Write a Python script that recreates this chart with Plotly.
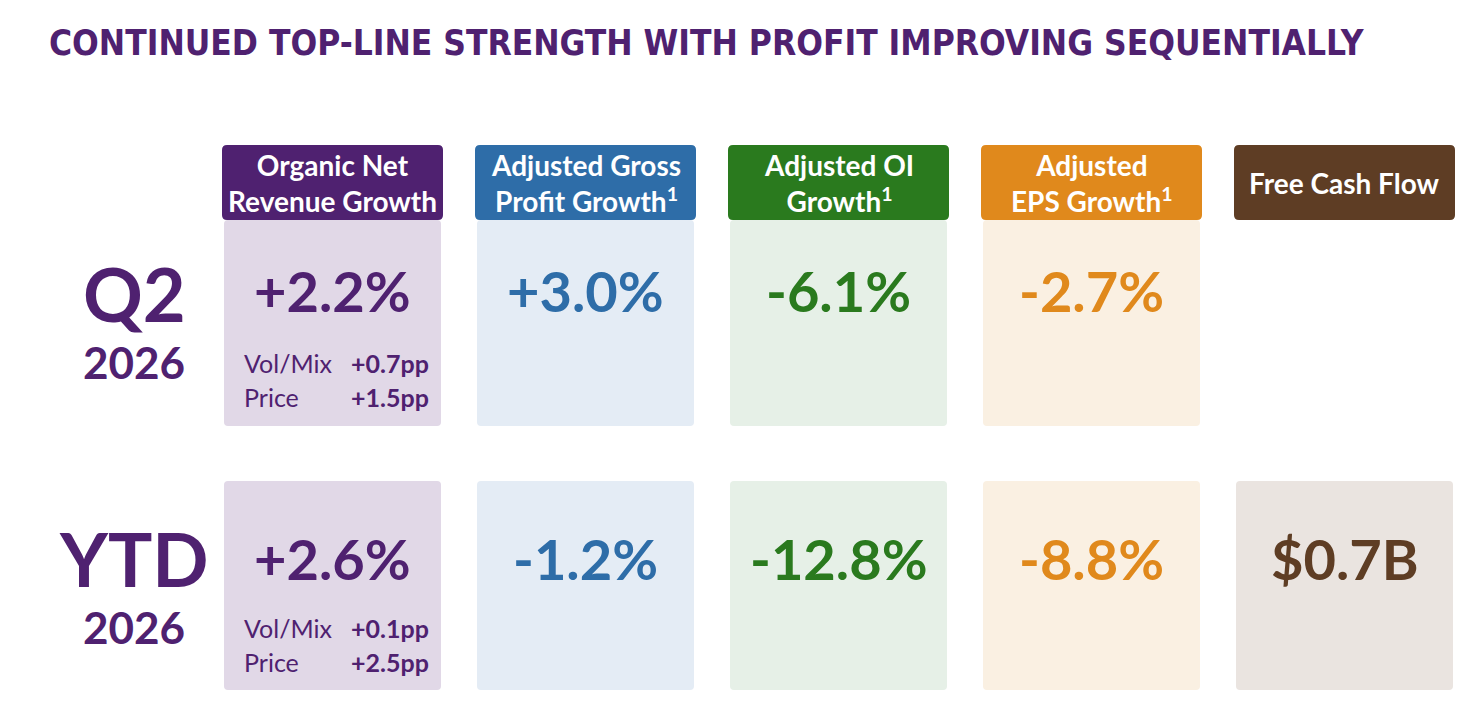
"""Quarterly scorecard: Q2 and YTD growth metrics as coloured tiles."""

import plotly.graph_objects as go

TITLE = "CONTINUED TOP-LINE STRENGTH WITH PROFIT IMPROVING SEQUENTIALLY"

metrics = [
    "Organic Net<br>Revenue Growth",
    "Adjusted Gross<br>Profit Growth<sup>1</sup>",
    "Adjusted OI<br>Growth<sup>1</sup>",
    "Adjusted<br>EPS Growth<sup>1</sup>",
    "Free Cash Flow",
]
periods = ["Q2", "YTD"]
period_years = ["2026", "2026"]
q2_values = ["+2.2%", "+3.0%", "-6.1%", "-2.7%", None]
ytd_values = ["+2.6%", "-1.2%", "-12.8%", "-8.8%", "$0.7B"]
breakdown_labels = ["Vol/Mix", "Price"]
q2_breakdown = ["+0.7pp", "+1.5pp"]
ytd_breakdown = ["+0.1pp", "+2.5pp"]

header_colors = ["#4F2170", "#2E6DA8", "#2A7A1E", "#E0891C", "#5E3D24"]
tile_colors = ["#E1D8E7", "#E4ECF5", "#E6F0E7", "#FAF0E2", "#EAE4E0"]

PURPLE = "#4F2170"
FONT = "Lato, 'Open Sans', sans-serif"
TITLE_FONT = "'DejaVu Sans Condensed', 'Liberation Sans Narrow', sans-serif"

W, H = 1475, 725
PAGE_PAD = 8  # browser body margin; axes are offset so coords = page pixels
col_x0 = 222
col_w = 221
col_step = 253
header_y = (145, 220)
row_y = [(220, 426), (481, 690)]
value_y = [290, 558]
label_y = [293, 558]
sub_y = [363, 628]

fig = go.Figure()
shapes = []
annotations = []


def rounded_rect(x0, y0, x1, y1, r, color):
    path = (
        f"M{x0 + r},{y0} L{x1 - r},{y0} Q{x1},{y0} {x1},{y0 + r} "
        f"L{x1},{y1 - r} Q{x1},{y1} {x1 - r},{y1} L{x0 + r},{y1} "
        f"Q{x0},{y1} {x0},{y1 - r} L{x0},{y0 + r} Q{x0},{y0} {x0 + r},{y0} Z"
    )
    return dict(type="path", path=path, xref="x", yref="y", fillcolor=color,
                line=dict(width=0), layer="below")


row_values = [q2_values, ytd_values]
row_breakdowns = [q2_breakdown, ytd_breakdown]

for i, name in enumerate(metrics):
    x0 = col_x0 + i * col_step
    x1 = x0 + col_w
    xc = (x0 + x1) / 2

    # tiles first so the header sits on top
    for r, (y0, y1) in enumerate(row_y):
        if row_values[r][i] is None:
            continue
        shapes.append(rounded_rect(x0 + 2, y0, x1 - 2, y1, 4, tile_colors[i]))
        annotations.append(dict(
            x=xc, y=value_y[r], text=f"<b>{row_values[r][i]}</b>", showarrow=False,
            font=dict(family=FONT, size=56, color=header_colors[i]),
            xanchor="center", yanchor="middle",
        ))

    shapes.append(rounded_rect(x0, header_y[0], x1, header_y[1], 5, header_colors[i]))
    annotations.append(dict(
        x=xc, y=(header_y[0] + header_y[1]) / 2, text=f"<b>{name}</b>", showarrow=False,
        font=dict(family=FONT, size=28, color="white"),
        xanchor="center", yanchor="middle",
    ))

# volume/mix and price split for organic net revenue
for r, parts in enumerate(row_breakdowns):
    for k, label in enumerate(breakdown_labels):
        y = sub_y[r] + k * 34
        annotations.append(dict(
            x=242, y=y, text=label, showarrow=False,
            font=dict(family=FONT, size=25, color=PURPLE),
            xanchor="left", yanchor="middle",
        ))
        annotations.append(dict(
            x=431, y=y, text=f"<b>{parts[k]}</b>", showarrow=False,
            font=dict(family=FONT, size=25, color=PURPLE),
            xanchor="right", yanchor="middle",
        ))

# row labels
for r, period in enumerate(periods):
    annotations.append(dict(
        x=134, y=label_y[r], text=f"<b>{period}</b>", showarrow=False,
        font=dict(family=FONT, size=74, color=PURPLE),
        xanchor="center", yanchor="middle",
    ))
    annotations.append(dict(
        x=134, y=label_y[r] + 69, text=f"<b>{period_years[r]}</b>", showarrow=False,
        font=dict(family=FONT, size=44, color=PURPLE),
        xanchor="center", yanchor="middle",
    ))

annotations.append(dict(
    x=47, y=43, text=f"<b>{TITLE}</b>", showarrow=False,
    font=dict(family=TITLE_FONT, size=35, color=PURPLE),
    xanchor="left", yanchor="middle",
))

fig.update_layout(
    width=W,
    height=H,
    margin=dict(l=0, r=0, t=0, b=0),
    paper_bgcolor="white",
    plot_bgcolor="white",
    shapes=shapes,
    annotations=annotations,
    showlegend=False,
    xaxis=dict(range=[PAGE_PAD, W + PAGE_PAD], visible=False, fixedrange=True),
    yaxis=dict(range=[H + PAGE_PAD, PAGE_PAD], visible=False, fixedrange=True),
)

fig.write_html("out.html")
